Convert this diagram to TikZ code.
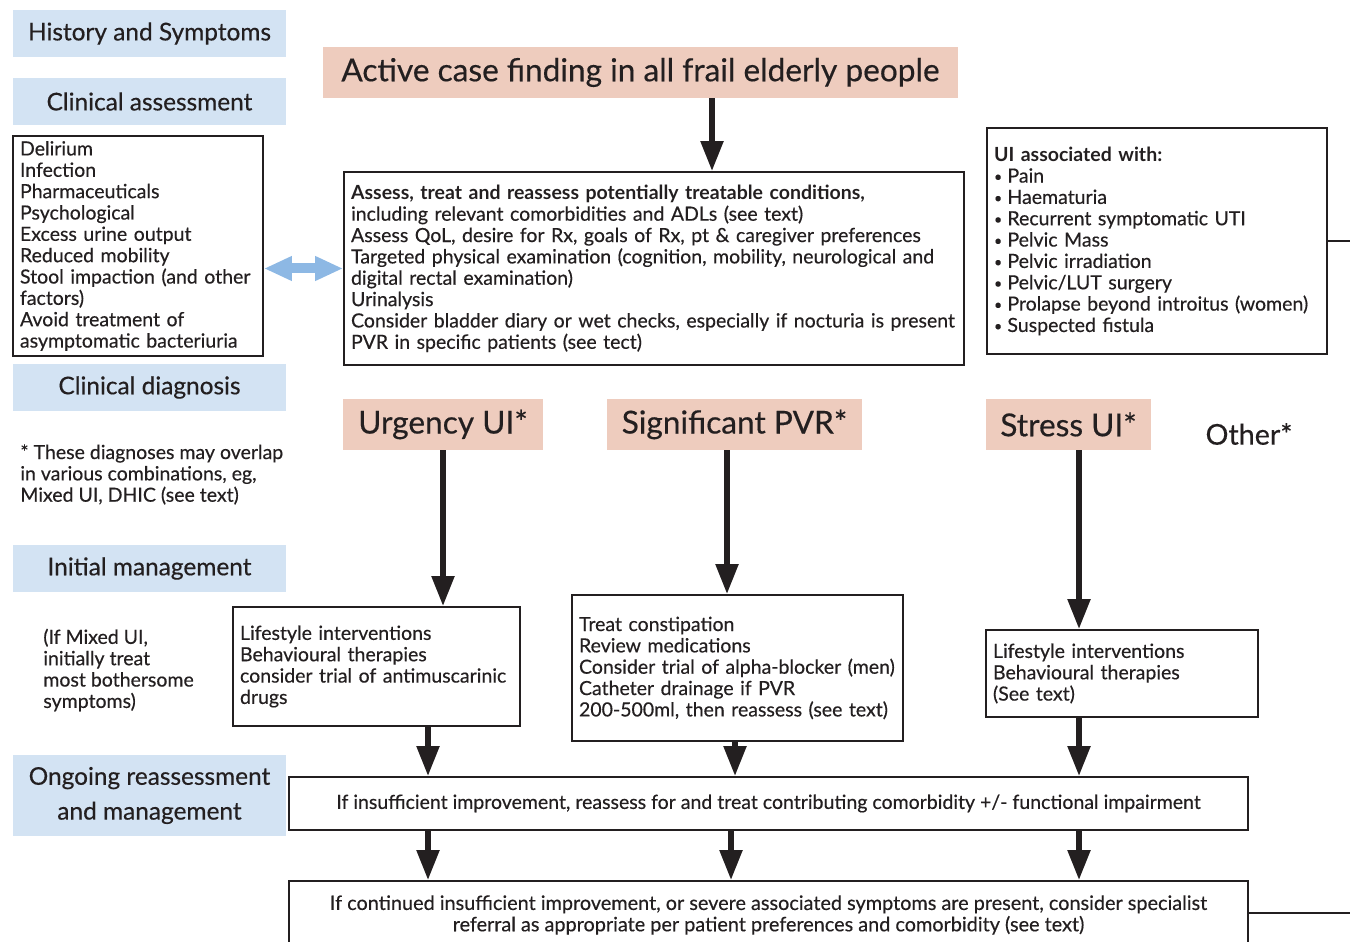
\documentclass[tikz,border=0pt]{standalone}
\usepackage{fontspec}
\setmainfont{Lato}[UprightFeatures={FakeBold=0.4}]
\usetikzlibrary{arrows.meta}
\definecolor{hdrblue}{HTML}{D3E3F3}
\definecolor{diagpink}{HTML}{EECCBE}
\definecolor{linkblue}{HTML}{8DB8E4}
\definecolor{inkgray}{HTML}{231F20}
\newcommand{\uibul}{{\fontsize{8}{8}\selectfont\raisebox{0.6pt}{•}}\hspace{3pt}}

\begin{document}
\begin{tikzpicture}[x=0.02cm,y=-0.02cm,
    every node/.style={text=inkgray},
    hdr/.style={fill=hdrblue, minimum width=5.46cm, minimum height=0.94cm, inner sep=0pt,
      font=\fontsize{13.9}{19.8}\selectfont, align=center},
    diag/.style={fill=diagpink, minimum height=1.02cm, inner sep=0pt,
      font=\fontsize{18}{20}\selectfont},
    box/.style={draw=inkgray, line width=0.04cm, align=left, inner xsep=0.14cm,
      inner ysep=0pt, font=\fontsize{11.1}{12.15}\selectfont},
    note/.style={align=left, inner sep=0pt, font=\fontsize{11.1}{12.15}\selectfont},
    arr/.style={line width=0.11cm, inkgray, -{Triangle[width=0.44cm,length=0.6cm]}},
    link/.style={line width=0.2cm, linkblue,
      {Triangle[width=0.46cm,length=0.56cm]}-{Triangle[width=0.46cm,length=0.56cm]}}]
  \useasboundingbox (0,0) rectangle (1350,942);
  \clip (0,0) rectangle (1350,942);

  % left column headings
  \node[hdr] (hist) at (149.5,33.5) {History and Symptoms};
  \node[hdr] (clin) at (149.5,101.5) {Clinical assessment};
  \node[hdr] (diagn) at (149.5,387.5) {Clinical diagnosis};
  \node[hdr] (initm) at (149.5,568.5) {Initial management};
  \node[hdr, minimum height=1.62cm] (ongo) at (149.5,795.5) {Ongoing reassessment\\and management};

  % assessment
  \node[diag, minimum width=12.7cm] (top) at (640.5,72.5) {Active case finding in all frail elderly people};
  \node[box, text width=4.72cm, minimum height=4.4cm] (causes) at (138,246) {Delirium\\Infection\\Pharmaceuticals\\Psychological\\Excess urine output\\Reduced mobility\\Stool impaction (and other\\factors)\\Avoid treatment of\\asymptomatic bacteriuria};
  \node[box, text width=12.12cm, minimum height=3.86cm] (main) at (654,268.5) {\textbf{Assess, treat and reassess potentially treatable conditions,}\\including relevant comorbidities and ADLs (see text)\\Assess QoL, desire for Rx, goals of Rx, pt \& caregiver preferences\\Targeted physical examination (cognition, mobility, neurological and\\digital rectal examination)\\Urinalysis\\Consider bladder diary or wet checks, especially if nocturia is present\\PVR in specific patients (see tect)};
  \node[box, text width=6.52cm, minimum height=4.52cm] (assoc) at (1157,241) {\textbf{UI associated with:}\\\uibul Pain\\\uibul Haematuria\\\uibul Recurrent symptomatic UTI\\\uibul Pelvic Mass\\\uibul Pelvic irradiation\\\uibul Pelvic/LUT surgery\\\uibul Prolapse beyond introitus (women)\\\uibul Suspected fistula};
  \coordinate (assocout) at (1350,241);
  \coordinate (colT) at (712,0);

  % diagnoses
  \node[diag, minimum width=4cm] (urg) at (443,424.5) {Urgency UI*};
  \node[diag, minimum width=5.1cm] (pvr) at (734.5,424.5) {Significant PVR*};
  \node[diag, minimum width=3.3cm] (str) at (1068.5,424.5) {Stress UI*};
  \node[font=\fontsize{16.3}{18}\selectfont, inner sep=0pt] (other) at (1249,434) {Other*};
  \node[note, anchor=north west] (overlap) at (20,444) {* These diagnoses may overlap\\in various combinations, eg,\\Mixed UI, DHIC (see text)};

  % initial management
  \node[note, anchor=west] (mixed) at (43,670) {(If Mixed UI,\\initially treat\\most bothersome\\symptoms)};
  \node[box, text width=5.46cm, minimum height=2.38cm] (urgm) at (376.5,666.5) {Lifestyle interventions\\Behavioural therapies\\consider trial of antimuscarinic\\drugs};
  \node[box, text width=6.34cm, minimum height=2.92cm] (pvrm) at (737.5,668) {Treat constipation\\Review medications\\Consider trial of alpha-blocker (men)\\Catheter drainage if PVR\\200-500ml, then reassess (see text)};
  \node[box, text width=5.16cm, minimum height=1.74cm] (strm) at (1122,673.5) {Lifestyle interventions\\Behavioural therapies\\(See text)};
  \coordinate (colU) at (443,0);
  \coordinate (colP) at (727,0);
  \coordinate (colS) at (1079,0);

  % reassessment
  \node[box, align=center, minimum width=19.18cm, minimum height=1.06cm] (reas) at (768.5,803.5) {If insufficient improvement, reassess for and treat contributing comorbidity +/- functional impairment};
  \node[box, align=center, minimum width=19.18cm, minimum height=1.36cm, font=\fontsize{11.3}{12.15}\selectfont] (fin) at (768.5,915) {If continued insufficient improvement, or severe associated symptoms are present, consider specialist\\referral as appropriate per patient preferences and comorbidity (see text)};
  \coordinate (finout) at (1350,913);
  \coordinate (colA) at (428,0);
  \coordinate (colB) at (735,0);
  \coordinate (colB2) at (731,0);
  \coordinate (colC) at (1079,0);

  % connectors
  \draw[link] (causes.east |- main.west) -- (main.west);
  \draw[arr] (top.south -| colT) -- (main.north -| colT);
  \draw[line width=0.04cm, inkgray] (assoc.east) -- (assocout);
  \draw[arr] (urg.south -| colU) -- (urgm.north -| colU);
  \draw[arr] (pvr.south -| colP) -- (pvrm.north -| colP);
  \draw[arr] (str.south -| colS) -- (strm.north -| colS);
  \draw[arr] (urgm.south -| colA) -- (reas.north -| colA);
  \draw[arr] (pvrm.south -| colB) -- (reas.north -| colB);
  \draw[arr] (strm.south -| colC) -- (reas.north -| colC);
  \draw[arr] (reas.south -| colA) -- (fin.north -| colA);
  \draw[arr] (reas.south -| colB2) -- (fin.north -| colB2);
  \draw[arr] (reas.south -| colC) -- (fin.north -| colC);
  \draw[line width=0.04cm, inkgray] (fin.east |- finout) -- (finout);
\end{tikzpicture}
\end{document}
